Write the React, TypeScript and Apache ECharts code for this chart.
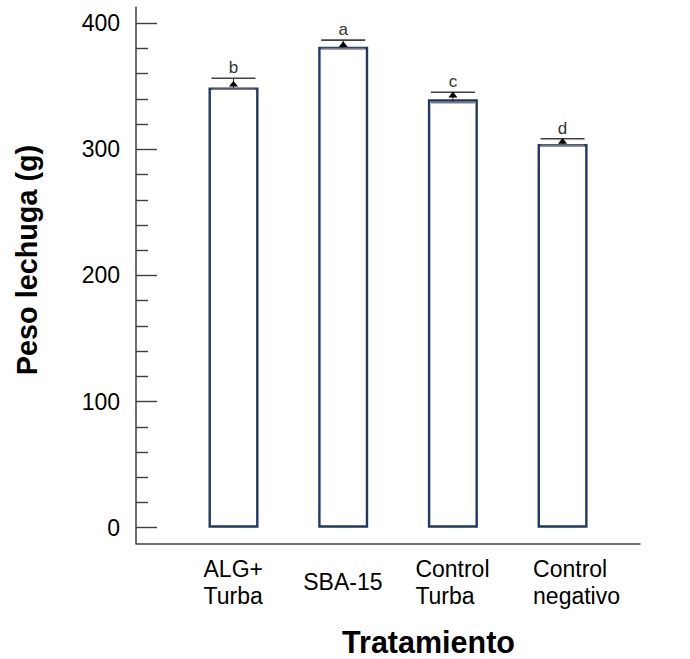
import { useEffect, useRef } from "react";
import * as echarts from "echarts";

// Treatments on the x axis (line breaks as printed under each bar)
const categories = ["ALG+\nTurba", "SBA-15", "Control\nTurba", "Control\nnegativo"];
// Lettuce weight (g): bar heights
const barValues = [349, 381.4, 339.7, 304.3];
// Error bars: centre marker, lower and upper limits (g)
const meanValues = [351.9, 383.2, 343.3, 306.5];
const errLow = [347.7, 379.9, 337.0, 303.2];
const errHigh = [356.4, 386.7, 345.3, 308.5];
// Significance letters above each bar
const groupLetters = ["b", "a", "c", "d"];
// Y axis ticks
const yMajorTicks = [0, 100, 200, 300, 400];
const yMinorTicks = [20, 40, 60, 80, 120, 140, 160, 180, 220, 240, 260, 280, 320, 340, 360, 380];

const FONT = '"Liberation Sans", Arial, sans-serif';
const AXIS_COLOR = "#3f3f3f";
const labelPadLeft = [0, 0, 0, 28];

function measure(text: string, font: string): number {
  const c = document.createElement("canvas");
  const ctx = c.getContext("2d")!;
  ctx.font = font;
  return ctx.measureText(text).width;
}

export default function App() {
  const ref = useRef<HTMLDivElement>(null);

  useEffect(() => {
    document.body.style.margin = "0";
    if (!ref.current) return;
    const chart = echarts.init(ref.current, null, { renderer: "svg" });

    const labelFont = `23px ${FONT}`;
    const rich: Record<string, any> = {};
    categories.forEach((cat, i) => {
      const w = Math.max(...cat.split("\n").map((l) => measure(l, labelFont)));
      rich["c" + i] = {
        width: Math.ceil(w),
        align: "left",
        fontSize: 23,
        lineHeight: 27,
        fontFamily: FONT,
        color: "#000",
        padding: [0, 0, 0, labelPadLeft[i]],
      };
    });

    const barData = barValues.map((v, i) => [i + 1, v]);
    const errData = meanValues.map((m, i) => [i + 1, m, errLow[i], errHigh[i]]);

    chart.setOption({
      animation: false,
      backgroundColor: "#fff",
      grid: {
        left: 136,
        right: 50,
        top: 7.3,
        bottom: 115.7,
        outerBoundsMode: "none",
      },
      xAxis: {
        type: "value",
        min: 0.111,
        max: 4.706,
        splitLine: { show: false },
        axisTick: { show: false },
        axisLine: { show: true, onZero: false, lineStyle: { color: AXIS_COLOR, width: 1.5 } },
        axisLabel: {
          customValues: [1, 2, 3, 4],
          margin: 39,
          verticalAlign: "middle",
          formatter: (v: number) => {
            const i = Math.round(v) - 1;
            const cat = categories[i];
            if (cat === undefined) return "";
            return cat
              .split("\n")
              .map((l) => `{c${i}|${l}}`)
              .join("\n");
          },
          rich,
        },
      },
      yAxis: [
        {
          type: "value",
          min: -12.4,
          max: 412.7,
          splitLine: { show: false },
          axisLine: { show: true, onZero: false, lineStyle: { color: AXIS_COLOR, width: 1.5 } },
          axisTick: {
            show: true,
            inside: true,
            length: 21,
            customValues: yMajorTicks,
            lineStyle: { color: AXIS_COLOR, width: 1.4 },
          },
          axisLabel: {
            customValues: yMajorTicks,
            margin: 16,
            fontSize: 23,
            fontFamily: FONT,
            color: "#000",
          },
        },
        {
          type: "value",
          min: -12.4,
          max: 412.7,
          position: "left",
          splitLine: { show: false },
          axisLine: { show: false },
          axisLabel: { show: false },
          axisTick: {
            show: true,
            inside: true,
            length: 12,
            customValues: yMinorTicks,
            lineStyle: { color: AXIS_COLOR, width: 1.4 },
          },
        },
      ],
      series: [
        {
          type: "bar",
          data: barData,
          barWidth: 50,
          itemStyle: { color: "#fff", borderColor: "#1f3864", borderWidth: 2.4 },
          silent: true,
        },
        {
          type: "custom",
          data: errData,
          z: 5,
          silent: true,
          encode: { x: 0, y: [1, 2, 3] },
          renderItem: (params: any, api: any) => {
            const x = api.value(0);
            const mid = api.coord([x, api.value(1)]);
            const lo = api.coord([x, api.value(2)]);
            const hi = api.coord([x, api.value(3)]);
            const half = 22;
            const cx = mid[0];
            return {
              type: "group",
              children: [
                {
                  type: "line",
                  shape: { x1: cx, y1: hi[1], x2: cx, y2: lo[1] },
                  style: { stroke: "#303030", lineWidth: 1 },
                },
                {
                  type: "line",
                  shape: { x1: cx - half, y1: hi[1], x2: cx + half, y2: hi[1] },
                  style: { stroke: "#404040", lineWidth: 1.6 },
                },
                {
                  type: "line",
                  shape: { x1: cx - half, y1: lo[1], x2: cx + half, y2: lo[1] },
                  style: { stroke: "#7a7a7a", lineWidth: 1.6 },
                },
                {
                  type: "polygon",
                  shape: {
                    points: [
                      [cx, mid[1] - 3.2],
                      [cx - 4.5, mid[1] + 2.6],
                      [cx + 4.5, mid[1] + 2.6],
                    ],
                  },
                  style: { fill: "#000" },
                },
                {
                  type: "text",
                  style: {
                    text: groupLetters[params.dataIndex],
                    x: cx,
                    y: hi[1] - 2,
                    align: "center",
                    verticalAlign: "bottom",
                    fontSize: 17,
                    fontFamily: FONT,
                    fill: "#333",
                  },
                },
              ],
            };
          },
        },
      ],
      graphic: [
        {
          type: "text",
          x: 27,
          y: 260,
          rotation: Math.PI / 2,
          style: {
            text: "Peso lechuga (g)",
            fontSize: 28.8,
            fontWeight: "bold",
            fontFamily: FONT,
            fill: "#000",
            align: "center",
            verticalAlign: "middle",
          },
        },
        {
          type: "text",
          x: 428.5,
          y: 642,
          style: {
            text: "Tratamiento",
            fontSize: 30.5,
            fontWeight: "bold",
            fontFamily: FONT,
            fill: "#000",
            align: "center",
            verticalAlign: "middle",
          },
        },
      ],
    });

    return () => chart.dispose();
  }, []);

  return <div ref={ref} style={{ width: 690, height: 659 }} />;
}
